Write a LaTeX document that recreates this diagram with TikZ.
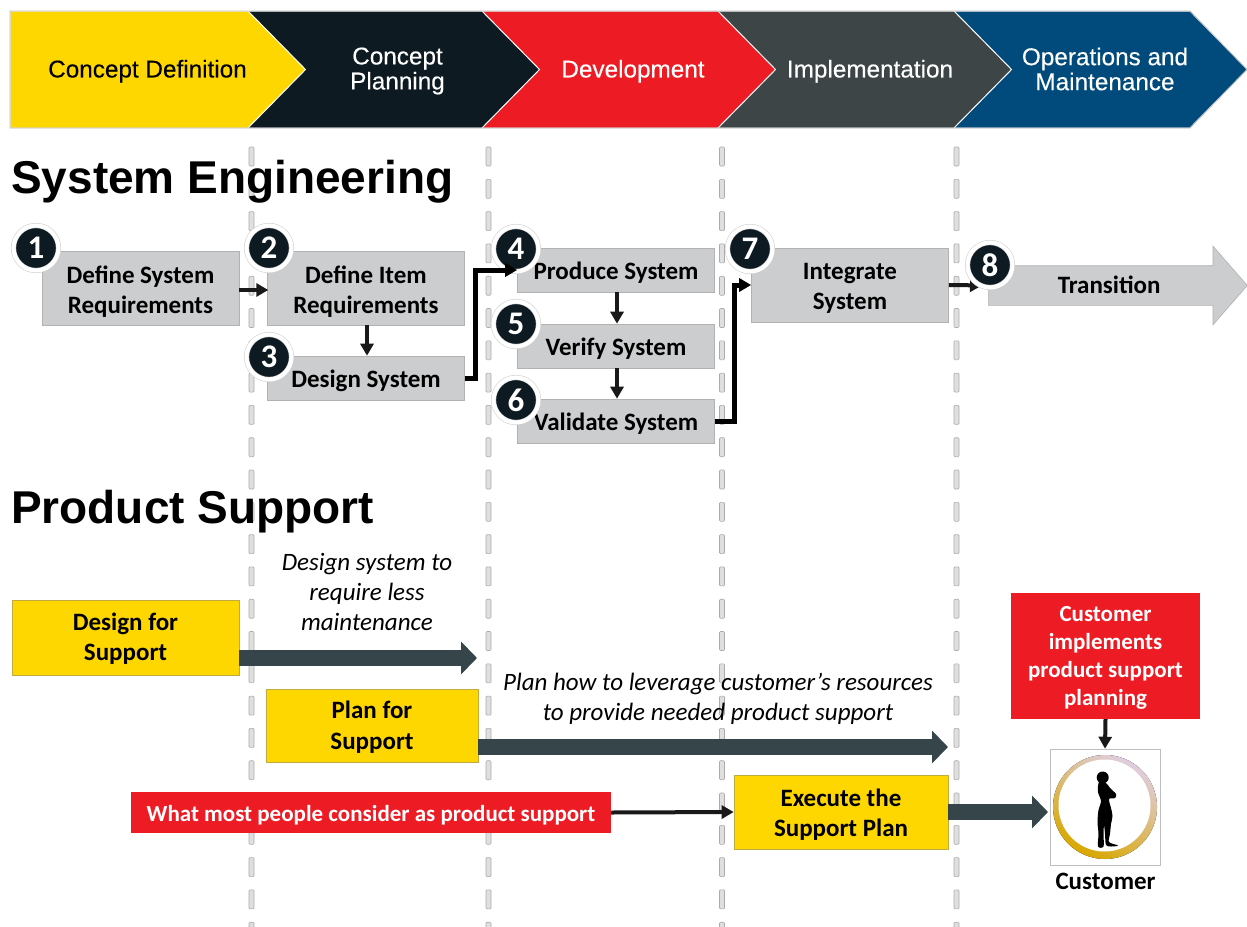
\documentclass[tikz,border=0pt]{standalone}
\usepackage{fontspec}
\setmainfont{Carlito}
\newfontfamily\headfont{Liberation Sans}
\newfontfamily\phasefont[FakeBold=.25]{Liberation Sans}
\usetikzlibrary{arrows.meta,shapes.arrows}
\definecolor{pgold}{HTML}{FFD700}
\definecolor{pnavy}{HTML}{0D1A22}
\definecolor{pred}{HTML}{ED1C24}
\definecolor{pslate}{HTML}{3D4547}
\definecolor{pblue}{HTML}{004B7C}
\definecolor{psteel}{HTML}{36454A}
\definecolor{pgrey}{HTML}{CBCDCE}
\def\phasetip{(\xb,11) -- (\xb+57.5,69.5) -- (\xb,128)}
\def\bandoutline{(1190,11) -- (10,11) -- (10,128) -- (1190,128) -- (1247,69.5) -- cycle}
\def\topgap#1{\rule{0pt}{#1}}
\tikzset{
	lowered/.style={execute at begin node={\rule{0pt}{#1}}},
	phaselabel/.style={align=center,inner sep=0,font=\phasefont\fontsize{24.3}{25}\selectfont,lowered=22pt},
	heading/.style={anchor=base west,inner sep=0,font=\headfont\bfseries\fontsize{46}{50}\selectfont},
	stepbox/.style={fill=pgrey,draw=gray!60,line width=.6pt,align=center,inner sep=0,minimum width=197,font=\bfseries\fontsize{25}{30.5}\selectfont,lowered=23pt},
	supportbox/.style={fill=pgold,draw=gray!50!pgold,line width=.6pt,align=center,inner sep=0,font=\bfseries\fontsize{25}{30.5}\selectfont},
	redbox/.style={fill=pred,align=center,inner sep=0,text=white,font=\bfseries\fontsize{23}{28}\selectfont,lowered=22pt},
	note/.style={align=center,inner sep=0,font=\itshape\fontsize{25}{30}\selectfont},
	badge/.style={circle,fill=pnavy,draw=gray!35,line width=.6pt,double=white,double distance=4pt,minimum size=45,inner sep=0,text=white,font=\bfseries\fontsize{33}{33}\selectfont},
	smallarrow/.style={line width=4pt,draw=black!90,-{Triangle[length=12pt,width=13pt]}},
	elbowarrow/.style={smallarrow,line width=5pt,draw=black},
	bigarrow/.style={line width=16pt,draw=psteel,-{Triangle[length=16pt,width=32pt]}},
	sepdash/.style={fill=gray!25,draw=gray!65,line width=.6pt,rounded corners=1pt}
}
\begin{document}
\begin{tikzpicture}[x=1pt,y=-1pt]
	\useasboundingbox (0,0) rectangle (1247,926);
	\fill[white] (0,0) rectangle (1247,926);

	%phase band, drawn from the right so each tip lies on the next phase
	\foreach \xa/\xb/\col in {954/1190/pblue,718/954/pslate,482/718/pred,248/482/pnavy,10/248/pgold}
		\fill[\col,draw=white,line width=1pt] (\xa,11) -- \phasetip -- (\xa,128) -- cycle;
	\draw[gray!55,line width=.8pt] \bandoutline;
	\node[phaselabel,text=black] (conceptdef) at (147.5,69) {Concept Definition};
	\node[phaselabel,text=white] (conceptplan) at (397.5,71) {Concept\\Planning};
	\node[phaselabel,text=white] (development) at (633,69) {Development};
	\node[phaselabel,text=white] (implementation) at (870,69) {Implementation};
	\node[phaselabel,text=white] (operations) at (1105,69) {Operations and\\Maintenance};

	%dashed phase boundaries
	\begin{scope}
		\clip (0,0) rectangle (1247,926);
		\foreach \x in {251.5,488.5,722,956.5}
			\foreach \y in {147,179.3,...,926}
				\draw[sepdash] (\x-2.5,\y) rectangle ++(5,19);
	\end{scope}

	\node[heading] (syseng) at (11,193) {System Engineering};
	\node[heading] (prodsup) at (11,523) {Product Support};

	%system engineering steps
	\node[stepbox,minimum height=74] (definesys) at (140.5,288) {\topgap{24.5pt}Define System\\Requirements};
	\node[stepbox,minimum height=74] (defineitem) at (366,288) {\topgap{24.5pt}Define Item\\Requirements};
	\node[stepbox,minimum height=44] (designsys) at (366,378) {Design System};
	\node[stepbox,minimum height=44] (producesys) at (616,270) {Produce System};
	\node[stepbox,minimum height=44] (verifysys) at (616,346) {Verify System};
	\node[stepbox,minimum height=44] (validatesys) at (616,421) {Validate System};
	\node[stepbox,minimum height=74] (integratesys) at (850,285) {\topgap{22.5pt}Integrate\\System};
	\node[single arrow,anchor=tail,fill=pgrey,draw=gray!60,line width=.6pt,minimum height=259,minimum width=78,
		single arrow head extend=19.5,single arrow tip angle=97.8,inner sep=0,text height=27,text depth=12,
		font=\bfseries\fontsize{25}{30}\selectfont] (transition) at (988,285.5) {Transition};

	\draw[smallarrow,shorten >=6pt] (integratesys.east) -- (transition.tail);

	\foreach \n/\x/\y in {1/36/248,2/269/248,3/269/357,4/516/249,5/516/324,6/516/400,7/750/249,8/990/265}
		\node[badge] (badge\n) at (\x,\y) {\n};

	\draw[smallarrow] (definesys.east) ++(0,2) -- ++(29,0);
	\draw[smallarrow] (defineitem) ++(1,37) -- (designsys.north -| 367,0);
	\draw[elbowarrow] (designsys.east) -- ++(11,0) |- (producesys.west);
	\draw[smallarrow] (producesys) ++(1,22) -- (verifysys.north -| 617,0);
	\draw[smallarrow] (verifysys) ++(1,22) -- (validatesys.north -| 617,0);
	\draw[elbowarrow] (validatesys.east) -- ++(20,0) |- (integratesys.west);

	%product support
	\node[supportbox,minimum width=227,minimum height=75] (designsup) at (125.5,637.5) {\topgap{20pt}Design for\\Support};
	\node[supportbox,minimum width=212,minimum height=73] (plansup) at (372,725.5) {\topgap{21pt}Plan for\\Support};
	\node[supportbox,minimum width=214,minimum height=74] (executesup) at (841,812) {\topgap{22.5pt}Execute the\\Support Plan};
	\node[redbox,minimum width=480,minimum height=41] (commonview) at (371,812.5) {What most people consider as product support};
	\node[redbox,minimum width=189,minimum height=126] (custplan) at (1105.5,656) {\topgap{18pt}Customer\\implements\\product support\\planning};
	\node[note] (designnote) at (367,592) {Design system to\\require less\\maintenance};
	\node[note] (plannote) at (718,697) {\topgap{21pt}Plan how to leverage customer’s resources\\to provide needed product support};

	\node[draw=gray!50,fill=white,line width=.6pt,minimum width=110,minimum height=116,inner sep=0] (custimage) at (1105,807) {};
	\node[inner sep=0,font=\bfseries\fontsize{25}{28}\selectfont] (custlabel) at (1105.5,881) {Customer};

	%ring and silhouette inside the customer picture
	\fill[top color=gray!45!violet!25,middle color=pgold!35,bottom color=orange!45!yellow!85!black,shading angle=-30] (custimage.center) circle (52);
	\fill[white] (1104.5,805.5) circle (46);
	\fill[black] (1102.7,777.5) circle (6);
	\fill[black] plot[smooth cycle,tension=.5] coordinates {(1099,782) (1106,783) (1110,788) (1116,794) (1115,798) (1109,799) (1111,808) (1112.5,816) (1111,824) (1110,834) (1109,842) (1118,845.5) (1111,846.5) (1106,845) (1105,834) (1104,825) (1103.5,834) (1103.5,846.5) (1098,846.5) (1098.5,834) (1097.5,822) (1098.5,810) (1101,801) (1098,792)};

	\coordinate (designtip) at (477,658);
	\coordinate (plantip) at (948,747);
	\coordinate (executetip) at (1048,812);
	\draw[bigarrow] (designsup.east |- designtip) -- (designtip);
	\draw[bigarrow] (plansup.east |- plantip) -- (plantip);
	\draw[bigarrow] (executesup.east |- executetip) -- (executetip);
	\draw[smallarrow] (commonview.east) -- (executesup.west);
	\draw[smallarrow] (custplan.south) -- (custimage.north);
\end{tikzpicture}
\end{document}
